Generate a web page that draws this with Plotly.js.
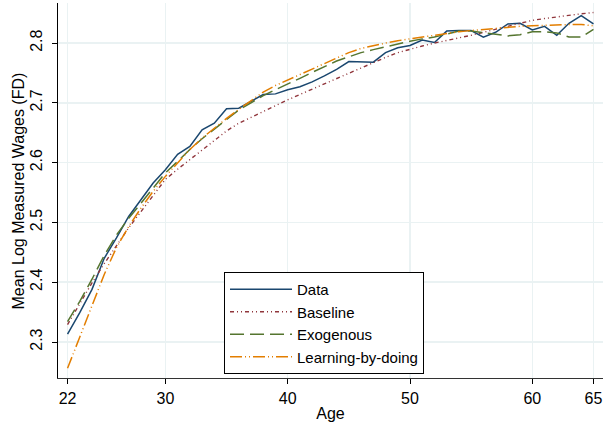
<!DOCTYPE html>
<html>
<head>
<meta charset="utf-8">
<script src="https://cdn.plot.ly/plotly-3.0.1.min.js"></script>
<style>html,body{margin:0;padding:0;background:#fff;}#chart{width:613px;height:427px;}</style>
</head>
<body>
<div id="chart"></div>
<script>
const ages = [22,23,24,25,26,27,28,29,30,31,32,33,34,35,36,37,38,39,40,41,42,43,44,45,46,47,48,49,50,51,52,53,54,55,56,57,58,59,60,61,62,63,64,65];
const dataVals = [2.313,2.349,2.388,2.440,2.474,2.510,2.538,2.566,2.588,2.614,2.627,2.655,2.666,2.690,2.691,2.702,2.714,2.715,2.722,2.727,2.735,2.745,2.756,2.769,2.769,2.768,2.784,2.792,2.796,2.805,2.801,2.820,2.821,2.821,2.810,2.818,2.832,2.833,2.822,2.828,2.813,2.833,2.846,2.832];
const baselineVals = [2.329,2.365,2.399,2.431,2.462,2.491,2.518,2.546,2.572,2.589,2.605,2.622,2.638,2.653,2.666,2.676,2.686,2.696,2.705,2.714,2.723,2.731,2.740,2.749,2.758,2.767,2.776,2.784,2.790,2.795,2.800,2.804,2.808,2.813,2.818,2.823,2.829,2.834,2.838,2.841,2.844,2.847,2.849,2.851];
const exogenousVals = [2.334,2.368,2.405,2.445,2.479,2.507,2.532,2.558,2.583,2.602,2.622,2.640,2.656,2.672,2.688,2.700,2.712,2.722,2.731,2.741,2.751,2.761,2.770,2.777,2.784,2.789,2.794,2.799,2.803,2.807,2.810,2.815,2.820,2.820,2.817,2.814,2.812,2.814,2.819,2.819,2.817,2.810,2.810,2.823];
const lbdVals = [2.256,2.309,2.360,2.413,2.458,2.493,2.524,2.552,2.577,2.600,2.622,2.641,2.658,2.674,2.689,2.704,2.718,2.729,2.738,2.748,2.757,2.766,2.775,2.784,2.791,2.796,2.800,2.804,2.807,2.811,2.814,2.816,2.819,2.821,2.823,2.825,2.827,2.828,2.829,2.830,2.831,2.831,2.831,2.829];
const seriesNames = ["Data","Baseline","Exogenous","Learning-by-doing"];
const xTicks = [22,30,40,50,60,65];
const yTicks = [2.3,2.4,2.5,2.6,2.7,2.8];
const yTickText = ["2.3","2.4","2.5","2.6","2.7","2.8"];
const xTitle = "Age";
const yTitle = "Mean Log Measured Wages (FD)";

const font = "Liberation Sans, Arial, Helvetica, sans-serif";
const traces = [
  {x: ages, y: dataVals, name: seriesNames[0], mode: "lines",
   line: {color: "#1a476f", width: 1.5}},
  {x: ages, y: baselineVals, name: seriesNames[1], mode: "lines",
   line: {color: "#90353b", width: 1.4, dash: "4px,3px,1px,3px,1px,3px"}},
  {x: ages, y: exogenousVals, name: seriesNames[2], mode: "lines",
   line: {color: "#55752f", width: 1.5, dash: "14px,6px"}},
  {x: ages, y: lbdVals, name: seriesNames[3], mode: "lines",
   line: {color: "#e37e00", width: 1.5, dash: "12px,3px,1px,3px,1px,3px"}}
];
const layout = {
  width: 613, height: 427,
  margin: {l: 58, r: 10, t: 3, b: 49},
  paper_bgcolor: "#fff", plot_bgcolor: "#fff",
  font: {family: font, size: 16, color: "#000"},
  showlegend: true,
  legend: {x: 0.3046, y: 0.0107, xanchor: "left", yanchor: "bottom",
    bgcolor: "#fff", bordercolor: "#000", borderwidth: 1,
    font: {family: font, size: 15, color: "#000"},
    itemwidth: 62, tracegroupgap: 0},
  xaxis: {range: [21.22, 65.78], tickvals: xTicks, ticks: "outside", ticklen: 5,
    tickcolor: "#000", showline: true, linecolor: "#333", linewidth: 1.3,
    showgrid: true, gridcolor: "#eaf2f3", gridwidth: 1.5, zeroline: false,
    tickfont: {family: font, size: 16},
    title: {text: xTitle, font: {family: font, size: 16}, standoff: 2}},
  yaxis: {range: [2.2398, 2.867], tickvals: yTicks, ticktext: yTickText, ticks: "outside", ticklen: 5,
    ticklabelstandoff: 3,
    tickcolor: "#000", tickangle: -90, showline: true, linecolor: "#000", linewidth: 1.3,
    showgrid: true, gridcolor: "#eaf2f3", gridwidth: 1.5, zeroline: false,
    tickfont: {family: font, size: 16}},
  annotations: [{text: yTitle, xref: "paper", yref: "paper", x: -0.0716, y: 0.5,
    xanchor: "center", yanchor: "middle", textangle: -90, showarrow: false,
    font: {family: font, size: 16, color: "#000"}}]
};
Plotly.newPlot("chart", traces, layout, {displayModeBar: false, staticPlot: true});
</script>
</body>
</html>
